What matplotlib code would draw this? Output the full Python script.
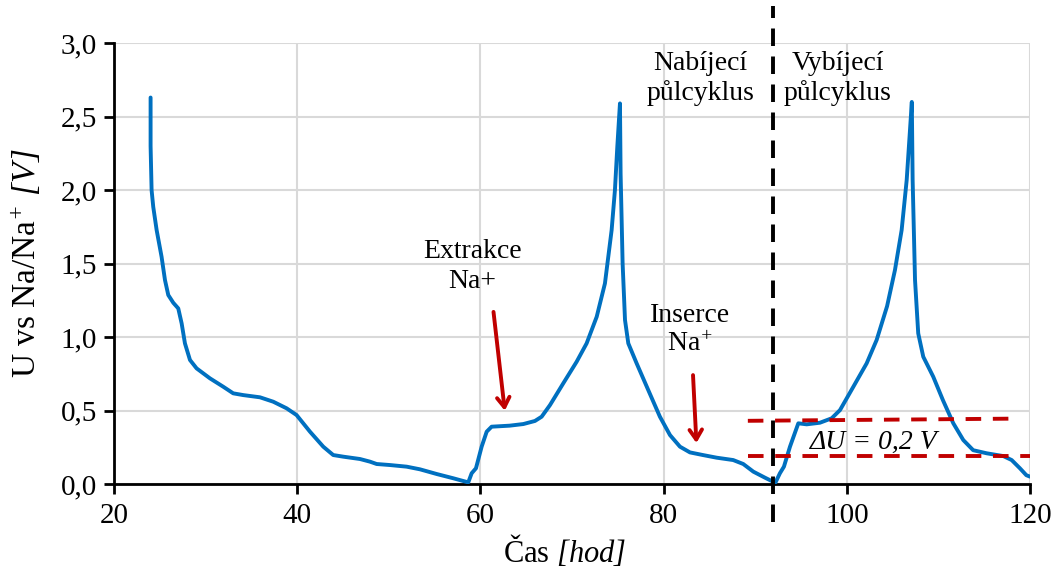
import matplotlib
matplotlib.use("Agg")
import matplotlib.pyplot as plt
from matplotlib.ticker import FuncFormatter

plt.rcParams['font.family'] = ['Liberation Serif', 'DejaVu Serif']
plt.rcParams['mathtext.fontset'] = 'custom'
# math segments hold the italic unit parts and the superscript plus
plt.rcParams['mathtext.rm'] = 'Liberation Serif:italic'
plt.rcParams['mathtext.it'] = 'Liberation Serif:italic'

# Galvanostatic cycling: time [h] vs potential [V]
time_h = [24.0, 24.0, 24.11, 24.29, 24.66, 25.2, 25.57, 25.93, 26.48, 27.02, 27.39, 27.75,
          28.3, 29.02, 30.48, 31.93, 33.02, 34.12, 35.94, 37.39, 38.85, 39.94, 41.4, 42.85,
          43.94, 45.03, 46.86, 47.95, 48.68, 50.13, 51.95, 53.4, 55.23, 57.04, 58.68, 59.05,
          59.52, 60.14, 60.69, 61.23, 63.2, 64.69, 65.96, 66.69, 67.6, 69.05, 70.51, 71.6,
          72.7, 73.6, 74.33, 74.69, 74.95, 75.24, 75.31, 75.53, 75.79, 76.15, 77.06, 78.33,
          79.6, 80.7, 81.79, 82.88, 84.3, 85.8, 87.6, 88.7, 89.8, 91.07, 92.2, 92.7, 93.14,
          93.8, 94.71, 95.62, 97.07, 98.35, 99.26, 100.7, 102.17, 103.26, 104.4, 105.26,
          105.99, 106.54, 106.9, 107.1, 107.19, 107.45, 107.8, 108.35, 109.44, 110.5,
          111.63, 112.72, 113.8, 115.27, 117.09, 118.0, 118.9, 119.6, 120.0]
voltage = [2.63, 2.30, 2.0, 1.886, 1.728, 1.546, 1.388, 1.286, 1.233, 1.195, 1.093, 0.957,
           0.844, 0.787, 0.719, 0.662, 0.617, 0.605, 0.59, 0.56, 0.515, 0.469, 0.356, 0.254,
           0.197, 0.186, 0.17, 0.152, 0.136, 0.129, 0.118, 0.10, 0.068, 0.039, 0.011, 0.073,
           0.107, 0.254, 0.356, 0.39, 0.397, 0.408, 0.429, 0.458, 0.537, 0.685, 0.832, 0.957,
           1.138, 1.365, 1.728, 2.0, 2.295, 2.59, 2.11, 1.50, 1.116, 0.957, 0.821, 0.639,
           0.458, 0.333, 0.254, 0.215, 0.197, 0.179, 0.163, 0.136, 0.084, 0.043, 0.008, 0.073,
           0.118, 0.254, 0.413, 0.406, 0.417, 0.447, 0.503, 0.66, 0.821, 0.98, 1.21, 1.456,
           1.728, 2.068, 2.408, 2.60, 2.068, 1.388, 1.025, 0.866, 0.73, 0.57,
           0.413, 0.299, 0.23, 0.209, 0.19, 0.163, 0.107, 0.06, 0.05]

switch_time = 92.0
upper_level_x = [89.2, 118.7]
upper_level_y = [0.43, 0.445]
lower_level_x = [89.2, 120.0]
lower_level_y = [0.19, 0.19]

x_ticks = [20, 40, 60, 80, 100, 120]
y_ticks = [0.0, 0.5, 1.0, 1.5, 2.0, 2.5, 3.0]

fig = plt.figure(figsize=(10.59, 5.74), dpi=100)
ax = fig.add_axes([0.1076, 0.1568, 0.865, 0.768])

ax.set_xlim(20, 120)
ax.set_ylim(0, 3.0)
ax.set_xticks(x_ticks)
ax.set_yticks(y_ticks)
ax.yaxis.set_major_formatter(FuncFormatter(lambda v, p: f"{v:.1f}".replace('.', ',')))
ax.xaxis.set_major_formatter(FuncFormatter(lambda v, p: f"{v:.0f}"))

ax.grid(True, color='#d9d9d9', linewidth=1.5)
ax.set_axisbelow(True)
for s in ['top', 'right']:
    ax.spines[s].set_visible(False)
for s in ['left', 'bottom']:
    ax.spines[s].set_linewidth(2)
    ax.spines[s].set_color('black')
ax.tick_params(axis='both', direction='out', length=7, width=2, labelsize=21, colors='black')
ax.tick_params(axis='x', pad=7)
ax.tick_params(axis='y', pad=5)

ax.plot(time_h, voltage, color='#0070c0', linewidth=2.8, solid_joinstyle='round',
        solid_capstyle='round', zorder=3)

# charge / discharge boundary
ax.plot([switch_time, switch_time], [-0.26, 3.25], color='black', linewidth=2.8,
        dashes=(4.5, 2.7), clip_on=False, zorder=4)

# potential plateaus
ax.plot(upper_level_x, upper_level_y, color='#c00000', linewidth=2.8, dashes=(4, 3), zorder=4)
ax.plot(lower_level_x, lower_level_y, color='#c00000', linewidth=2.8, dashes=(4, 3),
        clip_on=False, zorder=4)
ax.text(103.0, 0.285, 'ΔU = 0,2 V', fontsize=20, fontstyle='italic', ha='center', va='center')

ax.text(84.0, 2.76, 'Nabíjecí\npůlcyklus', fontsize=20, ha='center', va='center', linespacing=1.2)
ax.text(99.0, 2.76, 'Vybíjecí\npůlcyklus', fontsize=20, ha='center', va='center', linespacing=1.2)
ax.text(59.1, 1.48, 'Extrakce\nNa+', fontsize=20, ha='center', va='center', linespacing=1.25)
ax.text(82.9, 1.05, 'Inserce\nNa$^{+}$', fontsize=20, ha='center', va='center', linespacing=1.2)

arrow_kw = dict(arrowstyle='->,head_length=0.7,head_width=0.45', color='#c00000', lw=2.8)
ax.annotate('', xy=(62.7, 0.48), xytext=(61.4, 1.19), arrowprops=arrow_kw)
ax.annotate('', xy=(83.6, 0.26), xytext=(83.2, 0.76), arrowprops=arrow_kw)

ax.set_xlabel(r'Čas $[hod]$', fontsize=22)
ax.xaxis.set_label_coords(0.492, -0.112)
ax.set_ylabel(r'U vs Na/Na$^{+}$ $[V]$', fontsize=24)
ax.yaxis.set_label_coords(-0.077, 0.5)

fig.savefig('out.png', dpi=100)
